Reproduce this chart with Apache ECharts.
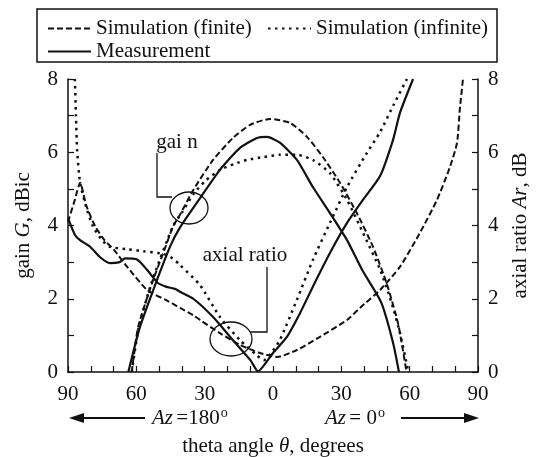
<!DOCTYPE html>
<html>
<head>
<meta charset="utf-8">
<title>gain / axial ratio vs theta</title>
<script src="https://cdn.jsdelivr.net/npm/echarts@6/dist/echarts.min.js"></script>
<style>
  html, body { margin: 0; padding: 0; background: #fff; }
  #chart { width: 539px; height: 457px; }
</style>
</head>
<body>
<div id="chart"></div>
<script>
// tick labels
const thetaLabels = [-90, -60, -30, 0, 30, 60, 90] // shown as |theta|
const yLabels = [0, 2, 4, 6, 8]

// gain G, dBic  [theta, value]
const gainFinite = [[-62, 0], [-59.2, 1.23], [-52.7, 2.5], [-47, 3.45], [-43.9, 3.97], [-40.8, 4.3], [-35, 4.97], [-26.3, 5.79], [-17.6, 6.39], [-10, 6.75], [-1.3, 6.91], [7.5, 6.8], [14.9, 6.42], [21.9, 5.87], [29.4, 5.17], [36.8, 4.34], [43.9, 3.42], [50, 2.4], [55, 1.3], [58.6, 0]]
const gainInfinite = [[-62, 0], [-59, 1.2], [-53, 2.5], [-44, 3.97], [-40, 4.35], [-35, 4.85], [-30, 5.2], [-23.3, 5.52], [-17, 5.68], [-11.4, 5.79], [-4, 5.87], [3, 5.93], [10.5, 5.93], [17.5, 5.79], [25, 5.43], [32.5, 4.7], [39.5, 3.8], [47, 2.8], [52, 1.9], [56, 1.0], [59.4, 0]]
const gainMeasured = [[-63.5, 0], [-58.4, 1.23], [-51, 2.5], [-45, 3.45], [-40.8, 3.95], [-32, 4.75], [-23.3, 5.52], [-14.5, 6.12], [-7, 6.39], [-2.6, 6.42], [3, 6.26], [10.5, 5.79], [17.5, 5.05], [25, 4.34], [32.5, 3.6], [39.5, 2.75], [47.5, 1.9], [52.7, 0.8], [55.3, 0]]

// axial ratio Ar, dB  [theta, value]
const arFinite = [[-90, 4.1], [-87, 4.7], [-84.7, 5.17], [-82, 4.55], [-78, 3.97], [-74, 3.6], [-70, 3.35], [-64, 2.87], [-55.3, 2.24], [-46.5, 1.95], [-40.8, 1.75], [-35, 1.55], [-32, 1.42], [-23.3, 1.06], [-14.5, 0.74], [-5.7, 0.52], [1.7, 0.41], [10.5, 0.6], [20.6, 0.96], [32.5, 1.42], [38.2, 1.75], [47, 2.24], [55.7, 2.87], [64.5, 3.8], [72, 4.7], [77.7, 5.6], [80.8, 6.26], [82, 7.16], [83.4, 8]]
const arInfinite = [[-87, 8], [-86.5, 7], [-86, 6.07], [-84.7, 5.17], [-82, 4.5], [-79, 3.97], [-75, 3.6], [-71.6, 3.42], [-64, 3.35], [-57, 3.3], [-48, 3.22], [-44, 3.1], [-40.8, 2.92], [-32, 2.37], [-23.3, 1.5], [-14.5, 0.87], [-7, 0.45], [-4, 0.32], [-1, 0.5], [3, 0.87], [10.5, 1.97], [17.5, 3.06], [25, 4.07], [32.5, 5.05], [41.2, 5.98], [47, 6.55], [53, 7.3], [58.8, 8]]
const arMeasured = [[-90, 4.2], [-87, 3.75], [-84.7, 3.6], [-80.3, 3.42], [-76, 3.14], [-71.6, 2.97], [-67.3, 3.0], [-65, 3.1], [-59.7, 3.07], [-55.3, 2.79], [-50.5, 2.43], [-47, 2.33], [-43, 2.27], [-40.8, 2.19], [-35, 2.0], [-26.3, 1.5], [-17.6, 0.87], [-10, 0.33], [-6.6, 0.02], [0, 0.52], [6.1, 0.96], [11.8, 1.6], [17.5, 2.33], [25, 3.25], [32.5, 4.07], [39.5, 4.7], [47, 5.35], [52.7, 6.34], [55.7, 7.07], [61.5, 8]]

const FONT = 'Liberation Serif'
const FS = 21
const INK = '#111'
const DASHED = [6, 3]
const DOTTED = [2.5, 4.5]

const chartInstance = echarts.init(document.getElementById('chart'))

function makeLine (name, data, yAxisIndex, dash, width) {
  return {
    name: name,
    type: 'line',
    data: data,
    yAxisIndex: yAxisIndex,
    symbol: 'none',
    smooth: 0.2,
    color: INK,
    lineStyle: { color: INK, width: width, type: dash }
  }
}

function yAxis (name, position, nameGap) {
  return {
    type: 'value',
    position: position,
    min: 0,
    max: 8,
    interval: 1,
    name: name,
    nameLocation: 'middle',
    nameRotate: 90,
    nameGap: nameGap,
    nameTextStyle: {
      fontFamily: FONT, fontSize: FS, color: INK,
      rich: { i: { fontFamily: FONT, fontSize: FS, fontStyle: 'italic', color: INK } }
    },
    axisLine: { show: true, onZero: false, lineStyle: { color: INK, width: 1.5 } },
    axisTick: { show: true, inside: true, length: 6, lineStyle: { color: INK, width: 1.2 } },
    splitLine: { show: false },
    axisLabel: {
      margin: 10,
      fontFamily: FONT, fontSize: FS, color: INK,
      formatter: (v) => yLabels.includes(v) ? String(v) : ''
    }
  }
}

// legend: line only, no marker
const legendCommon = {
  itemWidth: 43,
  itemHeight: 12,
  padding: 0,
  selectedMode: false,
  itemStyle: { opacity: 0 },
  textStyle: { fontFamily: FONT, fontSize: FS, color: INK }
}

// arrow with a filled head, tip at (x2, y)
function arrow (x1, x2, y) {
  const dir = x2 > x1 ? 1 : -1
  return [
    { type: 'line', shape: { x1: x1, y1: y, x2: x2 - dir * 12, y2: y }, style: { stroke: INK, lineWidth: 2 } },
    { type: 'polygon', shape: { points: [[x2, y], [x2 - dir * 15, y - 5], [x2 - dir * 15, y + 5]] }, style: { fill: INK } }
  ]
}

const richAz = {
  i: { fontFamily: FONT, fontSize: FS, fontStyle: 'italic', fill: INK },
  n: { fontFamily: FONT, fontSize: FS, fill: INK },
  s: { fontFamily: FONT, fontSize: 14, fill: INK, verticalAlign: 'top', padding: [0, 0, 10, 1] }
}

const option = {
  backgroundColor: '#fff',
  animation: false,
  grid: { left: 68, right: 61, top: 79, bottom: 85, outerBoundsMode: 'none' },
  legend: [
    Object.assign({ data: ['Simulation (finite)'], left: 47, top: 18 }, legendCommon),
    Object.assign({ data: ['Simulation (infinite)'], left: 267, top: 18 }, legendCommon),
    Object.assign({ data: ['Measurement'], left: 47, top: 41 }, legendCommon)
  ],
  xAxis: {
    type: 'value',
    min: -90,
    max: 90,
    interval: 10,
    name: 'theta angle {i|θ}, degrees',
    nameLocation: 'middle',
    nameGap: 64,
    nameTextStyle: {
      fontFamily: FONT, fontSize: FS, color: INK,
      rich: { i: { fontFamily: FONT, fontSize: FS, fontStyle: 'italic', color: INK } }
    },
    axisLine: { show: true, onZero: false, lineStyle: { color: INK, width: 1.5 } },
    axisTick: { show: true, inside: true, length: 6, lineStyle: { color: INK, width: 1.2 } },
    splitLine: { show: false },
    axisLabel: {
      margin: 12,
      fontFamily: FONT, fontSize: FS, color: INK,
      formatter: (v) => thetaLabels.includes(v) ? String(Math.abs(v)) : ''
    }
  },
  yAxis: [
    yAxis('gain {i|G}, dBic', 'left', 34),
    yAxis('axial ratio {i|Ar}, dB', 'right', 32)
  ],
  series: [
    makeLine('Simulation (finite)', gainFinite, 0, DASHED, 2),
    makeLine('Simulation (infinite)', gainInfinite, 0, DOTTED, 2.5),
    makeLine('Measurement', gainMeasured, 0, 'solid', 2.2),
    makeLine('Simulation (finite)', arFinite, 1, DASHED, 2),
    makeLine('Simulation (infinite)', arInfinite, 1, DOTTED, 2.5),
    makeLine('Measurement', arMeasured, 1, 'solid', 2.2)
  ],
  graphic: [
    // legend frame
    { type: 'rect', shape: { x: 37, y: 9, width: 460, height: 53 }, style: { fill: null, stroke: INK, lineWidth: 1.5 } },
    // "gain" callout
    { type: 'text', style: { text: 'gai n', x: 177, y: 142, align: 'center', verticalAlign: 'middle', font: FS + 'px "Liberation Serif"', fill: INK } },
    { type: 'polyline', shape: { points: [[157, 153], [157, 197], [172, 197]] }, style: { stroke: INK, lineWidth: 1.3, fill: null } },
    { type: 'ellipse', shape: { cx: 189, cy: 208, rx: 19, ry: 16 }, style: { stroke: INK, lineWidth: 1.3, fill: null } },
    // "axial ratio" callout
    { type: 'text', style: { text: 'axial ratio', x: 245, y: 255, align: 'center', verticalAlign: 'middle', font: FS + 'px "Liberation Serif"', fill: INK } },
    { type: 'polyline', shape: { points: [[267, 267], [267, 332], [250, 332]] }, style: { stroke: INK, lineWidth: 1.3, fill: null } },
    { type: 'ellipse', shape: { cx: 231, cy: 339, rx: 21, ry: 17 }, style: { stroke: INK, lineWidth: 1.3, fill: null } },
    // azimuth arrows
    ...arrow(145, 69, 418),
    ...arrow(401, 479, 418),
    { type: 'text', style: { text: '{i|Az} {n|=180}{s|o}', x: 152, y: 418, verticalAlign: 'middle', rich: richAz } },
    { type: 'text', style: { text: '{i|Az} {n|= 0}{s|o}', x: 325, y: 418, verticalAlign: 'middle', rich: richAz } }
  ]
}

chartInstance.setOption(option)
</script>
</body>
</html>
